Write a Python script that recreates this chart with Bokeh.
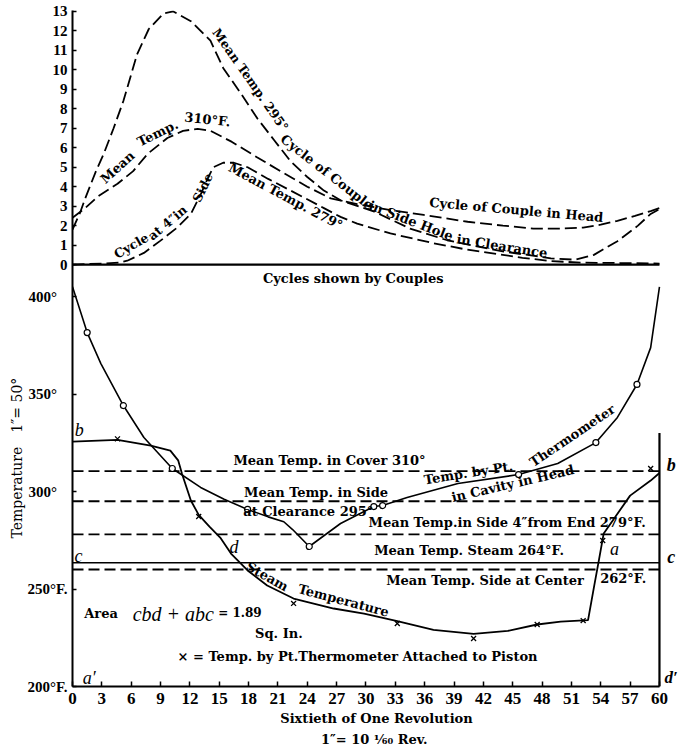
from bokeh.plotting import figure
from bokeh.models import Range1d, FixedTicker, Title
from bokeh.core.properties import value
from bokeh.embed import file_html
from bokeh.resources import INLINE

# ---------------- data ----------------
x_ticks = list(range(0, 61, 3))
couple_ticks = list(range(0, 14))
temp_ticks = [200, 250, 300, 350, 400]
temp_tick_labels = ["200°F.", "250°F.", "300°\u2002\u2009", "350°\u2002\u2009", "400°\u2002\u2009"]

# Top panel: cycles shown by couples
head_t = [0, 1.3, 2.6, 4.6, 6.2, 7.7, 9.7, 11.3, 12.8, 14.1, 16.3, 18.9, 21.6, 24.0, 26.4,
          29.1, 32.5, 35.9, 40.4, 44.0, 47.1, 50.0, 52.2, 54.0, 55.7, 57.5, 59.1, 60]
head_v = [2.4, 2.9, 3.5, 4.15, 4.8, 5.7, 6.5, 6.87, 6.97, 6.87, 6.3, 5.5, 4.7, 4.0, 3.4,
          3.1, 2.8, 2.55, 2.2, 2.0, 1.85, 1.85, 1.9, 2.05, 2.25, 2.5, 2.75, 2.9]

clear_t = [0, 0.8, 1.3, 2.4, 3.2, 4.2, 5.2, 6.6, 7.8, 9.3, 10.3, 12.1, 14.1, 15.4, 17.2,
           18.9, 20.6, 22.3, 24.0, 25.7, 27.4, 30.7, 34.5, 38.3, 43.7, 48.9, 51.4, 53.3,
           55.7, 57.8, 59.1, 60]
clear_v = [1.8, 2.7, 3.4, 4.8, 5.7, 7.0, 8.4, 10.8, 12.1, 12.9, 13.0, 12.5, 11.5, 10.1, 8.8,
           7.5, 6.4, 5.3, 4.5, 3.8, 3.3, 2.75, 1.85, 1.25, 0.7, 0.32, 0.25, 0.5,
           1.2, 2.0, 2.6, 2.85]

side_t = [0, 3.0, 4.8, 5.6, 7.3, 9.0, 10.7, 12.1, 13.1, 13.8, 14.4, 15.4, 16.5, 17.9, 20.0,
          22.3, 25.7, 27.4, 29.1, 32.5, 36.9, 40.0, 43.7, 46.0, 48.9, 52.0, 56.0, 60]
side_v = [0, 0.05, 0.1, 0.2, 0.6, 1.23, 1.9, 2.6, 3.6, 4.4, 5.0, 5.23, 5.23, 5.0, 4.4,
          3.8, 2.9, 2.45, 2.1, 1.6, 1.1, 0.8, 0.52, 0.35, 0.18, 0.1, 0.08, 0.05]

# Bottom panel: temperature in cavity in head (Pt. thermometer)
cav_t = [0, 1.5, 2.9, 5.2, 7.3, 10.2, 13.1, 15.5, 17.9, 20.0, 21.6, 22.5, 24.2, 27.4, 30.8,
         31.7, 34.2, 39.4, 45.6, 49.6, 53.5, 55.7, 57.7, 59.1, 60]
cav_T = [405, 381.5, 365.6, 344.1, 327.7, 311.8, 302.1, 296.0, 290.8, 287.0, 284.5, 280.5,
         271.8, 283.6, 292.3, 292.8, 296.9, 304.1, 308.7, 314.4, 325.1, 338.0, 354.9, 373.8, 405]
cav_obs_t = [1.5, 5.2, 10.2, 17.9, 24.2, 30.8, 31.7, 45.6, 53.5, 57.7]
cav_obs_T = [381.5, 344.1, 311.8, 290.8, 271.8, 292.3, 292.8, 308.7, 325.1, 354.9]

# Steam temperature (thermometer attached to piston)
steam_t = [0, 4.6, 8.0, 10.0, 10.8, 11.2, 12.1, 12.9, 14.0, 15.1, 16.2, 17.9, 19.9, 22.6,
           26.7, 29.8, 33.2, 36.9, 41.0, 44.5, 47.5, 49.9, 52.7, 53.3, 53.8, 54.3, 57.0, 59.1, 60]
steam_T = [325.6, 326.5, 323.5, 321.0, 316.0, 309.0, 295.4, 288.0, 282.0, 276.4, 268.2, 259.5,
           251.8, 245.1, 240.0, 237.4, 233.5, 229.0, 227.0, 228.5, 231.8, 233.3, 234.0, 250.8,
           264.6, 278.5, 297.9, 305.6, 309.5]
piston_obs_t = [4.6, 12.9, 22.6, 33.2, 41.0, 47.5, 52.2, 54.2, 59.1]
piston_obs_T = [327.0, 287.2, 242.6, 232.3, 224.6, 231.8, 233.8, 274.9, 311.8]

# Mean temperatures (horizontal lines)
mean_cover = 310.5
mean_clearance = 295.0
mean_side_4in = 278.0
mean_steam = 263.5
mean_side_center = 260.0
right_ordinate = [200, 330]

# ---------------- figure ----------------
T0, T1 = 200, 546.7
C0, C1 = -21.67, 13.05
X1 = 62.15
SERIF = "Liberation Serif"
TXT = "DejaVu Serif"

p = figure(width=680, height=754, x_range=Range1d(0, X1), y_range=Range1d(T0, T1),
           output_backend="svg", toolbar_location=None,
           min_border_left=72, min_border_right=0, min_border_top=10, min_border_bottom=68)
p.extra_y_ranges = {"cyc": Range1d(C0, C1)}
p.outline_line_color = None
p.xgrid.visible = False
p.ygrid.visible = False

xa = p.xaxis[0]
xa.bounds = (0, 60)
xa.ticker = FixedTicker(ticks=x_ticks)
xa.major_tick_in = 5
xa.major_tick_out = 0
xa.minor_tick_line_color = None
xa.axis_line_width = 2
xa.major_tick_line_width = 1.5
xa.major_label_text_font = SERIF
xa.major_label_text_font_style = "bold"
xa.major_label_text_font_size = "17px"
xa.major_label_text_color = "black"
xa.major_label_standoff = 6
xa.axis_label = "Sixtieth of One Revolution"
xa.axis_label_text_font = TXT
xa.axis_label_text_font_style = "bold"
xa.axis_label_text_font_size = "13px"
xa.axis_label_text_color = "black"
xa.axis_label_standoff = 4

ya = p.yaxis[0]
couple_T = [round(T0 + (v - C0) / (C1 - C0) * (T1 - T0), 3) for v in couple_ticks]
ya.ticker = FixedTicker(ticks=temp_ticks + couple_T)
overrides = {float(t): s for t, s in zip(temp_ticks, temp_tick_labels)}
overrides.update({ct: str(v) for ct, v in zip(couple_T, couple_ticks)})
ya.major_label_overrides = overrides
ya.major_tick_in = 4
ya.major_tick_out = 0
ya.minor_tick_line_color = None
ya.axis_line_width = 2
ya.major_tick_line_width = 1.5
ya.major_label_text_font = SERIF
ya.major_label_text_font_style = "bold"
ya.major_label_text_font_size = "15px"
ya.major_label_text_color = "black"
ya.major_label_standoff = 5

p.add_layout(Title(text="Temperature\u2002\u20021″= 50°", align="left", offset=148, standoff=0,
                   text_font=TXT, text_font_size="14px", text_font_style="normal",
                   text_color="black"), "left")
p.add_layout(Title(text="1″= 10 ¹⁄₆₀  Rev.", align="center", standoff=2,
                   text_font=TXT, text_font_size="13px", text_font_style="bold",
                   text_color="black"), "below")

DASH = "12 5"
# top panel curves
p.line([0, 60], [0, 0], y_range_name="cyc", line_color="black", line_width=2.2)
p.line(head_t, head_v, y_range_name="cyc", line_color="black", line_width=1.8, line_dash=DASH)
p.line(clear_t, clear_v, y_range_name="cyc", line_color="black", line_width=1.8, line_dash=DASH)
p.line(side_t, side_v, y_range_name="cyc", line_color="black", line_width=1.8, line_dash=DASH)

# bottom panel
for yv in [mean_cover, mean_clearance, mean_side_4in, mean_side_center]:
    p.line([0, 60], [yv, yv], line_color="black", line_width=1.8, line_dash="11 5")
p.line([0, 60], [mean_steam, mean_steam], line_color="black", line_width=1.6)
p.line([60, 60], right_ordinate, line_color="black", line_width=2.2)

p.line(cav_t, cav_T, line_color="black", line_width=1.6)
p.scatter(cav_obs_t, cav_obs_T, marker="circle", size=6, fill_color="white",
          line_color="black", line_width=1.2)
p.line(steam_t, steam_T, line_color="black", line_width=1.8)
p.scatter(piston_obs_t, piston_obs_T, marker="x", size=7, line_color="black", line_width=1.3)


def txt(x, y, s, size=13, angle=0, style="bold", rng="default", align="center", font=TXT):
    p.text(x=[x], y=[y], text=[s], angle=angle, angle_units="deg",
           text_font=value(font), text_font_size=f"{size}px", text_font_style=style,
           text_align=align, text_baseline="middle", text_color="black",
           y_range_name=rng)


# top panel texts
txt(18.2, 9.5, "Mean Temp. 295°", angle=-55, rng="cyc", size=12.5)
txt(26.0, 4.75, "Cycle of Couple", angle=-38, rng="cyc")
txt(34.6, 2.25, "in Side Hole", angle=-21, rng="cyc")
txt(43.9, 0.95, "in Clearance", angle=-9, rng="cyc")
txt(45.6, 2.8, "Cycle of Couple in  Head", angle=-5, rng="cyc")
txt(4.6, 5.0, "Mean", angle=42, rng="cyc")
txt(8.7, 6.75, "Temp.", angle=26, rng="cyc")
txt(13.8, 7.45, "310°F.", angle=-6, rng="cyc")
txt(21.8, 3.5, "Mean Temp. 279°", angle=-28, rng="cyc")
txt(6.0, 0.97, "Cycle", angle=30, rng="cyc", size=12.5)
txt(9.7, 2.15, "at 4″in", angle=40, rng="cyc", size=12.5)
txt(13.3, 3.95, "Side", angle=64, rng="cyc", size=12.5)
txt(28.7, -0.72, "Cycles shown by Couples", rng="cyc")

# bottom panel texts
txt(26.5, 315.9, "Mean Temp. in Cover  310°")
txt(24.9, 299.5, "Mean Temp. in Side")
txt(24.1, 289.7, "at Clearance 295°")
txt(40.7, 309.7, "Temp. by  Pt.", angle=9)
txt(51.1, 328.7, "Thermometer", angle=34)
txt(45.0, 304.1, "in Cavity in Head", angle=13)
txt(44.9, 284.1, "Mean Temp.in Side  4″from End  279°F.")
txt(41.0, 269.7, "Mean Temp.  Steam  264°F.")
txt(42.4, 254.4, "Mean Temp.  Side at Center")
txt(56.3, 255.4, "262°F.")
txt(19.9, 256.4, "Steam", angle=-29)
txt(27.7, 244.1, "Temperature", angle=-15)
txt(1.2, 237.4, "Area", align="left")
txt(10.3, 237.2, "cbd + abc", size=20, style="italic", font=SERIF)
txt(14.9, 237.6, "= 1.89", size=12, align="left")
txt(21.1, 227.2, "Sq. In.")
txt(29.6, 215.4, "×  = Temp. by Pt.Thermometer  Attached to Piston", size=13)
txt(0.7, 331.3, "b", size=18, style="italic", font=SERIF)
txt(0.6, 266.7, "c", size=18, style="italic", font=SERIF)
txt(16.5, 271.8, "d", size=18, style="italic", font=SERIF)
txt(1.7, 204.6, "a′", size=18, style="italic", font=SERIF)
txt(55.4, 270.3, "a", size=18, style="italic", font=SERIF)
txt(61.2, 313.8, "b", size=18, style="bold italic", font=SERIF)
txt(61.2, 266.2, "c", size=18, style="bold italic", font=SERIF)
txt(61.2, 204.6, "d′", size=17, style="bold italic", font=SERIF)

open("out.html", "w").write(file_html(p, INLINE))
